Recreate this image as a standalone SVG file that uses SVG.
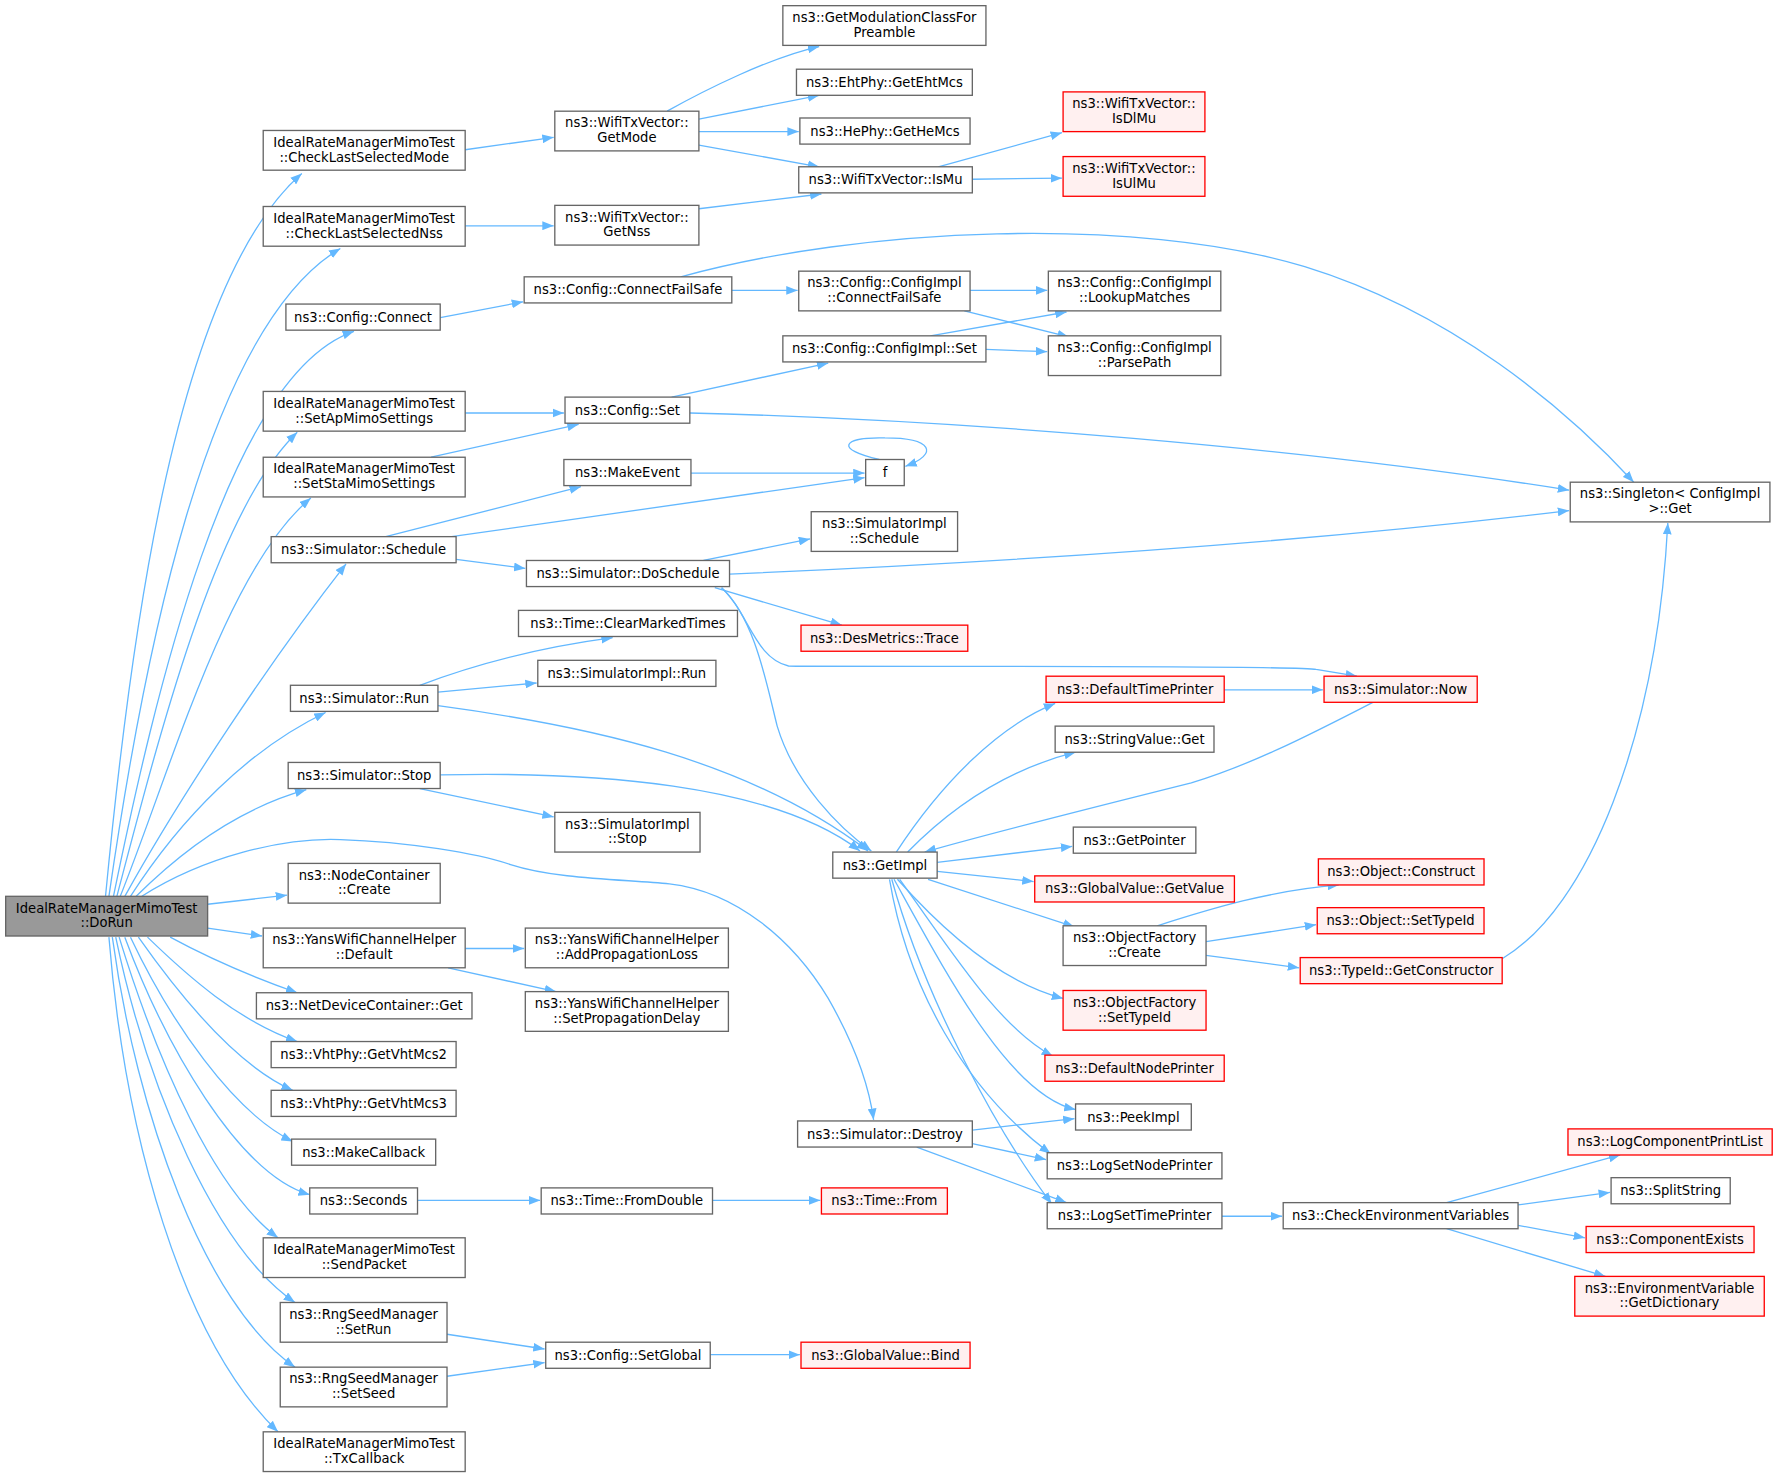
<svg xmlns="http://www.w3.org/2000/svg" width="1779" height="1477" viewBox="0 0 1779 1477">
<style>
.n rect{fill:#fff;stroke:#666;stroke-width:1.17}
.r rect{fill:#FFF0F0;stroke:#F00;stroke-width:1.17}
.root rect{fill:#999;stroke:#666;stroke-width:1.17}
text{font-family:"DejaVu Sans",sans-serif;font-size:11.6px;text-anchor:middle;fill:#000}
#edges path{fill:none;stroke:#63B8FF;stroke-width:1.15;marker-end:url(#a)}
</style>
<defs>
<marker id="a" markerUnits="userSpaceOnUse" markerWidth="10" markerHeight="8" refX="9" refY="3.5" orient="auto" viewBox="0 0 9 7"><path d="M0,0 L9,3.5 L0,7 z" fill="#63B8FF"/></marker>
</defs>
<rect width="1779" height="1477" fill="#fff"/>
<g transform="scale(1.13457)">
<g id="edges">
<path d="M93,790 C115,560 155,250 266,153"/>
<path d="M96,790 C125,590 180,290 300,219"/>
<path d="M100,790 C135,620 200,330 312,292"/>
<path d="M103,790 C140,650 190,450 262,381"/>
<path d="M106,790 C150,680 200,500 274,439"/>
<path d="M110,790 C160,700 240,580 305,497"/>
<path d="M115,790 C160,720 220,660 287,628"/>
<path d="M120,790 C170,740 220,710 270,696"/>
<path d="M125,790 C180,755 250,738 300,740 C360,742 420,752 450,762 C490,775 550,775 590,779 C650,786 700,830 730,880 C750,915 765,950 770,987"/>
<path d="M183,797 L253,789"/>
<path d="M183,818 L231,825"/>
<path d="M150,826 C185,845 225,862 262,875"/>
<path d="M130,826 C165,860 210,900 262,918"/>
<path d="M122,826 C160,880 210,940 258,961"/>
<path d="M115,826 C150,900 205,980 258,1006"/>
<path d="M110,826 C145,920 210,1035 273,1053"/>
<path d="M105,826 C140,940 190,1050 245,1091"/>
<path d="M102,826 C130,960 190,1100 260,1148"/>
<path d="M99,826 C120,980 180,1150 260,1205"/>
<path d="M96,826 C110,1000 160,1180 245,1262"/>
<path d="M410,132 L488,121"/>
<path d="M410,199 L488,199"/>
<path d="M388,280 L461,266"/>
<path d="M410,364 L497,364"/>
<path d="M380,403 L510,374"/>
<path d="M340,473 L512,429"/>
<path d="M398,473 L762,421"/>
<path d="M402,493 L463,501"/>
<path d="M370,604 C420,585 480,570 540,562"/>
<path d="M386,610 L473,602"/>
<path d="M386,622 C520,640 660,670 765,750"/>
<path d="M388,683 C520,680 680,690 758,750"/>
<path d="M370,695 L488,720"/>
<path d="M410,836 L462,836"/>
<path d="M395,853 L490,874"/>
<path d="M368,1058 L476,1058"/>
<path d="M394,1176 L480,1189"/>
<path d="M394,1213 L480,1201"/>
<path d="M588,98 C620,80 680,50 722,41"/>
<path d="M616,105 L722,84"/>
<path d="M616,116 L704,116"/>
<path d="M616,128 L722,147"/>
<path d="M616,184 L724,171"/>
<path d="M827,147 L936,117"/>
<path d="M857,158 L936,157"/>
<path d="M600,244 C760,200 1000,190 1150,235 C1280,275 1380,360 1440,425"/>
<path d="M645,256 L703,256"/>
<path d="M855,256 L923,256"/>
<path d="M850,274 L942,297"/>
<path d="M820,296 L940,275"/>
<path d="M869,308 L923,310"/>
<path d="M592,350 L730,320"/>
<path d="M608,364 C850,370 1150,395 1383,432"/>
<path d="M609,417 L762,417"/>
<path d="M775,405 C735,396 742,385 780,386 C822,386 828,400 798,411"/>
<path d="M620,494 L714,475"/>
<path d="M643,506 C900,495 1150,478 1383,450"/>
<path d="M630,518 L742,551"/>
<path d="M636,518 C660,540 665,580 695,587 C720,588 1140,586 1160,590 L1196,596"/>
<path d="M636,518 C665,545 675,600 685,640 C700,690 740,730 768,750"/>
<path d="M790,751 C830,690 880,640 930,620"/>
<path d="M800,751 C850,700 900,675 948,663"/>
<path d="M1210,619 C1150,650 1100,675 1050,690 C950,715 870,735 815,751"/>
<path d="M1079,608 L1166,608"/>
<path d="M826,760 L945,746"/>
<path d="M826,768 L911,777"/>
<path d="M818,775 L947,817"/>
<path d="M791,775 C840,830 890,868 937,880"/>
<path d="M793,775 C840,840 880,905 928,931"/>
<path d="M788,775 C835,860 890,965 948,978"/>
<path d="M784,775 C800,870 850,960 926,1017"/>
<path d="M786,775 C815,880 880,1000 927,1061"/>
<path d="M1020,816 C1070,800 1120,785 1180,780"/>
<path d="M1063,830 L1160,815"/>
<path d="M1063,842 L1145,853"/>
<path d="M1324,845 C1400,800 1460,650 1470,461"/>
<path d="M857,996 L947,986"/>
<path d="M857,1008 L922,1022"/>
<path d="M808,1011 L940,1060"/>
<path d="M1077,1072 L1130,1072"/>
<path d="M1275,1060 L1428,1018"/>
<path d="M1338,1062 L1419,1051"/>
<path d="M1338,1080 L1397,1091"/>
<path d="M1275,1083 L1415,1125"/>
<path d="M628,1058 L723,1058"/>
<path d="M626,1194 L705,1194"/>
</g>
<g id="dorun" class="root"><rect x="5" y="790" width="178" height="35"/><text x="94" y="804.3">IdealRateManagerMimoTest</text><text x="94" y="817.4">::DoRun</text></g>
<g id="cslm" class="n"><rect x="232" y="115" width="178" height="35"/><text x="321" y="129.3">IdealRateManagerMimoTest</text><text x="321" y="142.4">::CheckLastSelectedMode</text></g>
<g id="csln" class="n"><rect x="232" y="182" width="178" height="35"/><text x="321" y="196.3">IdealRateManagerMimoTest</text><text x="321" y="209.4">::CheckLastSelectedNss</text></g>
<g id="connect" class="n"><rect x="252" y="268" width="136" height="23"/><text x="320" y="283.5">ns3::Config::Connect</text></g>
<g id="setap" class="n"><rect x="232" y="345" width="178" height="35"/><text x="321" y="359.3">IdealRateManagerMimoTest</text><text x="321" y="372.4">::SetApMimoSettings</text></g>
<g id="setsta" class="n"><rect x="232" y="403" width="178" height="35"/><text x="321" y="417.3">IdealRateManagerMimoTest</text><text x="321" y="430.4">::SetStaMimoSettings</text></g>
<g id="schedule" class="n"><rect x="239" y="473" width="163" height="23"/><text x="320.5" y="488.5">ns3::Simulator::Schedule</text></g>
<g id="run" class="n"><rect x="256" y="604" width="130" height="23"/><text x="321" y="619.5">ns3::Simulator::Run</text></g>
<g id="stop" class="n"><rect x="254" y="672" width="134" height="23"/><text x="321" y="687.5">ns3::Simulator::Stop</text></g>
<g id="nccreate" class="n"><rect x="254" y="761" width="134" height="35"/><text x="321" y="775.3">ns3::NodeContainer</text><text x="321" y="788.4">::Create</text></g>
<g id="ywdefault" class="n"><rect x="232" y="818" width="178" height="35"/><text x="321" y="832.3">ns3::YansWifiChannelHelper</text><text x="321" y="845.4">::Default</text></g>
<g id="ndcget" class="n"><rect x="226" y="875" width="190" height="23"/><text x="321" y="890.5">ns3::NetDeviceContainer::Get</text></g>
<g id="vht2" class="n"><rect x="239" y="918" width="163" height="23"/><text x="320.5" y="933.5">ns3::VhtPhy::GetVhtMcs2</text></g>
<g id="vht3" class="n"><rect x="239" y="961" width="163" height="23"/><text x="320.5" y="976.5">ns3::VhtPhy::GetVhtMcs3</text></g>
<g id="makecb" class="n"><rect x="257" y="1004" width="127" height="23"/><text x="320.5" y="1019.5">ns3::MakeCallback</text></g>
<g id="seconds" class="n"><rect x="273" y="1047" width="95" height="23"/><text x="320.5" y="1062.5">ns3::Seconds</text></g>
<g id="sendpacket" class="n"><rect x="232" y="1091" width="178" height="35"/><text x="321" y="1105.3">IdealRateManagerMimoTest</text><text x="321" y="1118.4">::SendPacket</text></g>
<g id="setrun" class="n"><rect x="247" y="1148" width="147" height="35"/><text x="320.5" y="1162.3">ns3::RngSeedManager</text><text x="320.5" y="1175.4">::SetRun</text></g>
<g id="setseed" class="n"><rect x="247" y="1205" width="147" height="35"/><text x="320.5" y="1219.3">ns3::RngSeedManager</text><text x="320.5" y="1232.4">::SetSeed</text></g>
<g id="txcb" class="n"><rect x="232" y="1262" width="178" height="35"/><text x="321" y="1276.3">IdealRateManagerMimoTest</text><text x="321" y="1289.4">::TxCallback</text></g>
<g id="getmode" class="n"><rect x="489" y="98" width="127" height="35"/><text x="552.5" y="112.3">ns3::WifiTxVector::</text><text x="552.5" y="125.4">GetMode</text></g>
<g id="getnss" class="n"><rect x="489" y="181" width="127" height="35"/><text x="552.5" y="195.3">ns3::WifiTxVector::</text><text x="552.5" y="208.4">GetNss</text></g>
<g id="cfs" class="n"><rect x="462" y="244" width="183" height="23"/><text x="553.5" y="259.5">ns3::Config::ConnectFailSafe</text></g>
<g id="cset" class="n"><rect x="498" y="350" width="110" height="23"/><text x="553" y="365.5">ns3::Config::Set</text></g>
<g id="makeevent" class="n"><rect x="497" y="405" width="112" height="23"/><text x="553" y="420.5">ns3::MakeEvent</text></g>
<g id="dosched" class="n"><rect x="464" y="494" width="179" height="23"/><text x="553.5" y="509.5">ns3::Simulator::DoSchedule</text></g>
<g id="cmt" class="n"><rect x="457" y="538" width="193" height="23"/><text x="553.5" y="553.5">ns3::Time::ClearMarkedTimes</text></g>
<g id="simrun" class="n"><rect x="474" y="582" width="157" height="23"/><text x="552.5" y="597.5">ns3::SimulatorImpl::Run</text></g>
<g id="simstop" class="n"><rect x="489" y="716" width="128" height="35"/><text x="553" y="730.3">ns3::SimulatorImpl</text><text x="553" y="743.4">::Stop</text></g>
<g id="addprop" class="n"><rect x="463" y="818" width="179" height="35"/><text x="552.5" y="832.3">ns3::YansWifiChannelHelper</text><text x="552.5" y="845.4">::AddPropagationLoss</text></g>
<g id="setprop" class="n"><rect x="463" y="874" width="179" height="35"/><text x="552.5" y="888.3">ns3::YansWifiChannelHelper</text><text x="552.5" y="901.4">::SetPropagationDelay</text></g>
<g id="fromdouble" class="n"><rect x="477" y="1047" width="151" height="23"/><text x="552.5" y="1062.5">ns3::Time::FromDouble</text></g>
<g id="setglobal" class="n"><rect x="481" y="1183" width="145" height="23"/><text x="553.5" y="1198.5">ns3::Config::SetGlobal</text></g>
<g id="gmcp" class="n"><rect x="690" y="5" width="179" height="35"/><text x="779.5" y="19.3">ns3::GetModulationClassFor</text><text x="779.5" y="32.4">Preamble</text></g>
<g id="eht" class="n"><rect x="702" y="61" width="155" height="23"/><text x="779.5" y="76.5">ns3::EhtPhy::GetEhtMcs</text></g>
<g id="he" class="n"><rect x="705" y="104" width="150" height="23"/><text x="780" y="119.5">ns3::HePhy::GetHeMcs</text></g>
<g id="ismu" class="n"><rect x="704" y="147" width="153" height="23"/><text x="780.5" y="162.5">ns3::WifiTxVector::IsMu</text></g>
<g id="cicfs" class="n"><rect x="704" y="239" width="151" height="35"/><text x="779.5" y="253.3">ns3::Config::ConfigImpl</text><text x="779.5" y="266.4">::ConnectFailSafe</text></g>
<g id="ciset" class="n"><rect x="690" y="296" width="179" height="23"/><text x="779.5" y="311.5">ns3::Config::ConfigImpl::Set</text></g>
<g id="f" class="n"><rect x="763" y="405" width="34" height="23"/><text x="780" y="420.5">f</text></g>
<g id="simsched" class="n"><rect x="715" y="451" width="129" height="35"/><text x="779.5" y="465.3">ns3::SimulatorImpl</text><text x="779.5" y="478.4">::Schedule</text></g>
<g id="trace" class="r"><rect x="706" y="551" width="147" height="23"/><text x="779.5" y="566.5">ns3::DesMetrics::Trace</text></g>
<g id="getimpl" class="n"><rect x="734" y="751" width="92" height="23"/><text x="780" y="766.5">ns3::GetImpl</text></g>
<g id="destroy" class="n"><rect x="703" y="988" width="154" height="23"/><text x="780" y="1003.5">ns3::Simulator::Destroy</text></g>
<g id="timefrom" class="r"><rect x="724" y="1047" width="111" height="23"/><text x="779.5" y="1062.5">ns3::Time::From</text></g>
<g id="bind" class="r"><rect x="706" y="1183" width="149" height="23"/><text x="780.5" y="1198.5">ns3::GlobalValue::Bind</text></g>
<g id="isdlmu" class="r"><rect x="937" y="81" width="125" height="35"/><text x="999.5" y="95.3">ns3::WifiTxVector::</text><text x="999.5" y="108.4">IsDlMu</text></g>
<g id="isulmu" class="r"><rect x="937" y="138" width="125" height="35"/><text x="999.5" y="152.3">ns3::WifiTxVector::</text><text x="999.5" y="165.4">IsUlMu</text></g>
<g id="lookup" class="n"><rect x="924" y="239" width="152" height="35"/><text x="1000" y="253.3">ns3::Config::ConfigImpl</text><text x="1000" y="266.4">::LookupMatches</text></g>
<g id="parse" class="n"><rect x="924" y="296" width="152" height="35"/><text x="1000" y="310.3">ns3::Config::ConfigImpl</text><text x="1000" y="323.4">::ParsePath</text></g>
<g id="dtp" class="r"><rect x="922" y="596" width="157" height="23"/><text x="1000.5" y="611.5">ns3::DefaultTimePrinter</text></g>
<g id="svget" class="n"><rect x="930" y="640" width="140" height="23"/><text x="1000" y="655.5">ns3::StringValue::Get</text></g>
<g id="getpointer" class="n"><rect x="946" y="729" width="108" height="23"/><text x="1000" y="744.5">ns3::GetPointer</text></g>
<g id="getvalue" class="r"><rect x="912" y="772" width="176" height="23"/><text x="1000" y="787.5">ns3::GlobalValue::GetValue</text></g>
<g id="ofcreate" class="n"><rect x="937" y="816" width="126" height="35"/><text x="1000" y="830.3">ns3::ObjectFactory</text><text x="1000" y="843.4">::Create</text></g>
<g id="ofsettype" class="r"><rect x="937" y="873" width="126" height="35"/><text x="1000" y="887.3">ns3::ObjectFactory</text><text x="1000" y="900.4">::SetTypeId</text></g>
<g id="dnp" class="r"><rect x="921" y="930" width="158" height="23"/><text x="1000" y="945.5">ns3::DefaultNodePrinter</text></g>
<g id="peek" class="n"><rect x="948" y="973" width="102" height="23"/><text x="999" y="988.5">ns3::PeekImpl</text></g>
<g id="lsnp" class="n"><rect x="923" y="1016" width="154" height="23"/><text x="1000" y="1031.5">ns3::LogSetNodePrinter</text></g>
<g id="lstp" class="n"><rect x="923" y="1060" width="154" height="23"/><text x="1000" y="1075.5">ns3::LogSetTimePrinter</text></g>
<g id="now" class="r"><rect x="1167" y="596" width="135" height="23"/><text x="1234.5" y="611.5">ns3::Simulator::Now</text></g>
<g id="construct" class="r"><rect x="1162" y="757" width="146" height="23"/><text x="1235" y="772.5">ns3::Object::Construct</text></g>
<g id="objsettype" class="r"><rect x="1161" y="800" width="147" height="23"/><text x="1234.5" y="815.5">ns3::Object::SetTypeId</text></g>
<g id="getctor" class="r"><rect x="1146" y="844" width="178" height="23"/><text x="1235" y="859.5">ns3::TypeId::GetConstructor</text></g>
<g id="checkenv" class="n"><rect x="1131" y="1060" width="207" height="23"/><text x="1234.5" y="1075.5">ns3::CheckEnvironmentVariables</text></g>
<g id="singleton" class="n"><rect x="1384" y="425" width="176" height="35"/><text x="1472" y="439.3">ns3::Singleton&lt; ConfigImpl</text><text x="1472" y="452.4">&gt;::Get</text></g>
<g id="lcpl" class="r"><rect x="1382" y="995" width="180" height="23"/><text x="1472" y="1010.5">ns3::LogComponentPrintList</text></g>
<g id="split" class="n"><rect x="1420" y="1038" width="105" height="23"/><text x="1472.5" y="1053.5">ns3::SplitString</text></g>
<g id="compexists" class="r"><rect x="1398" y="1081" width="148" height="23"/><text x="1472" y="1096.5">ns3::ComponentExists</text></g>
<g id="envvar" class="r"><rect x="1388" y="1125" width="167" height="35"/><text x="1471.5" y="1139.3">ns3::EnvironmentVariable</text><text x="1471.5" y="1152.4">::GetDictionary</text></g>
</g>
</svg>
